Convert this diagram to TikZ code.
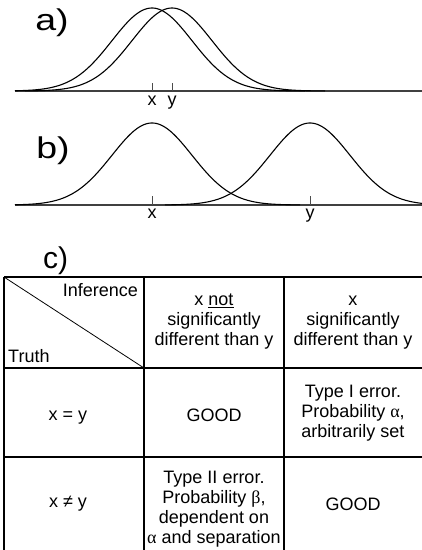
\documentclass[tikz,border=0pt]{standalone}
\usepackage{fontspec}
\setmainfont{Liberation Sans}
\newfontfamily\grk{Liberation Serif}
\begin{document}
\begin{tikzpicture}[x=1pt,y=-1pt,
  curve/.style={line width=1.1pt, line join=round},
  axisline/.style={line width=1.3pt, black!75},
  tickmark/.style={line width=0.9pt, black!70},
  lbl/.style={font=\fontsize{18}{20}\selectfont, inner sep=0pt, anchor=base},
  big/.style={font=\fontsize{30}{30}\selectfont, inner sep=0pt, anchor=base west},
  cell/.style={font=\fontsize{18}{20}\selectfont, align=center, inner sep=0pt},
  gridline/.style={line width=1.6pt},
  vline/.style={line width=1.4pt},
]
\useasboundingbox (0,0) rectangle (422,550);

% ---- panel a
\node[big, xscale=1.25] (la) at (35,30) {a)};
\draw[axisline] (15,91) -- (422,91);
\draw[curve] plot[domain=15:305, samples=160] (\x, {91-83*exp(-((\x-152)/40)^2/2)});
\draw[curve] plot[domain=25:325, samples=160] (\x, {91-83*exp(-((\x-172)/40)^2/2)});
\draw[tickmark] (152,83) -- (152,91);
\draw[tickmark] (172,83) -- (172,91);
\node[lbl] (ax) at (152,105) {x};
\node[lbl] (ay) at (172,105) {y};

% ---- panel b
\node[big, xscale=1.25] (lb) at (36,158) {b)};
\draw[axisline] (15,205) -- (422,205);
\draw[curve] plot[domain=15:300, samples=160] (\x, {205-82*exp(-((\x-152)/40)^2/2)});
\draw[curve] plot[domain=165:422, samples=160] (\x, {205-82*exp(-((\x-310)/40)^2/2)});
\draw[tickmark] (152,196) -- (152,205);
\draw[tickmark] (310,196) -- (310,205);
\node[lbl] (bx) at (152,218) {x};
\node[lbl] (by) at (310,218) {y};

% ---- panel c
\node[big] (lc) at (43,268) {c)};
\draw[line width=1.2pt] (4,277) -- (422,277);
\draw[gridline] (4,368) -- (422,368);
\draw[gridline] (4,457) -- (422,457);
\draw[vline] (4,277) -- (4,550);
\draw[vline] (144,277) -- (144,550);
\draw[vline] (284,277) -- (284,550);
\draw[line width=0.8pt] (4,277) -- (144,368);

\node[cell, anchor=base east] (inf) at (138,296) {Inference};
\node[cell, anchor=base west] (tru) at (8,362) {Truth};
\node[cell] (h2) at (214,321.3) {x \underline{not}\\significantly\\different than y};
\node[cell] (h3) at (353,322.3) {x\\significantly\\different than y};

\node[cell] (r2c1) at (68,418) {x = y};
\node[cell] (r2c2) at (214,415.5) {GOOD};
\node[cell] (r2c3) at (353,413.2) {Type I error.\\Probability {\grk α},\\arbitrarily set};

\node[cell] (r3c1) at (68,503.5) {x ≠ y};
\node[cell] (r3c2) at (214,509.6) {Type II error.\\Probability {\grk β},\\dependent on\\{\grk α} and separation};
\node[cell] (r3c3) at (353,504) {GOOD};
\end{tikzpicture}
\end{document}
